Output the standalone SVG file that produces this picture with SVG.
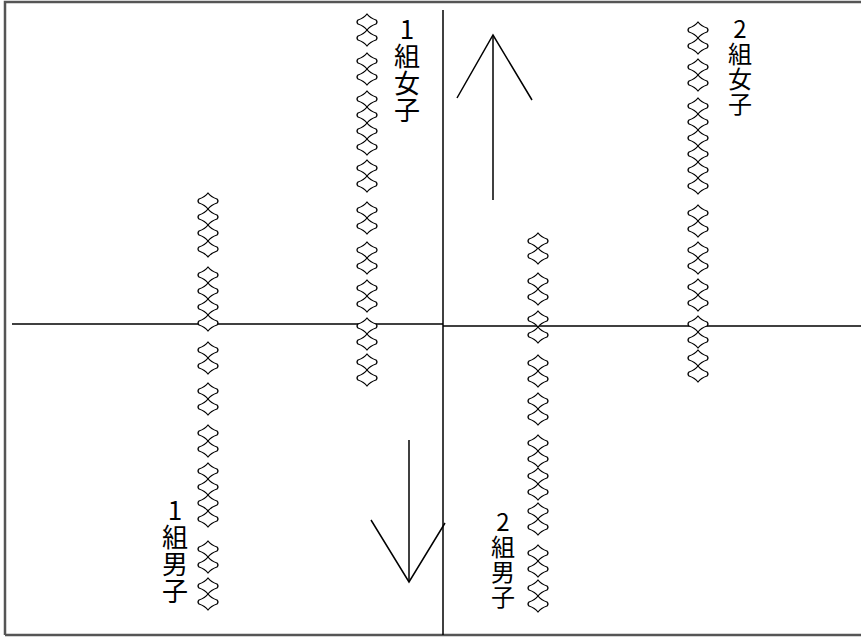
<svg xmlns="http://www.w3.org/2000/svg" xmlns:xlink="http://www.w3.org/1999/xlink" width="861" height="637" viewBox="0 0 861 637">
<style>
.ln{stroke:#000;stroke-width:1.5;fill:none}
.fr{stroke:#555;stroke-width:2.5;fill:none}
.dm{stroke:#000;stroke-width:1.2;fill:#fff}
.lb{font-family:"Noto Sans CJK JP","Noto Sans CJK SC",sans-serif;font-size:26px;letter-spacing:1px;fill:#000;writing-mode:vertical-rl;text-orientation:upright}
.sm{font-size:24px}
</style>
<defs>
<path id="d" class="dm" d="M0,0 Q3,4 9,6 Q11,8 9,10 Q3,12 0,16 Q-3,12 -9,10 Q-11,8 -9,6 Q-3,4 0,0 Z"/>
</defs>
<rect width="861" height="637" fill="#fff"/>
<g id="frame">
<path class="fr" d="M5,635 V2 H870 M5,635 H870"/>
</g>
<g id="connectors">
<line class="ln" x1="12" y1="324" x2="443" y2="324"/>
<line class="ln" x1="443" y1="326" x2="861" y2="326"/>
<line class="ln" x1="443" y1="10" x2="443" y2="635"/>
<g id="arrow-up">
<line class="ln" x1="493" y1="35" x2="493" y2="200"/>
<polyline class="ln" points="457,98 493,35 532,100"/>
</g>
<g id="arrow-down">
<line class="ln" x1="409" y1="440" x2="409" y2="582"/>
<polyline class="ln" points="371,520 409,582 445,523"/>
</g>
</g>
<g id="class1-girls">
<g transform="translate(367,0)">
<use xlink:href="#d" y="14"/><use xlink:href="#d" y="30"/>
<use xlink:href="#d" y="53"/><use xlink:href="#d" y="69"/>
<use xlink:href="#d" y="91"/><use xlink:href="#d" y="107"/><use xlink:href="#d" y="123"/><use xlink:href="#d" y="139"/>
<use xlink:href="#d" y="160"/><use xlink:href="#d" y="176"/>
<use xlink:href="#d" y="202"/><use xlink:href="#d" y="218"/>
<use xlink:href="#d" y="242"/><use xlink:href="#d" y="258"/>
<use xlink:href="#d" y="280"/><use xlink:href="#d" y="296"/>
<use xlink:href="#d" y="318"/><use xlink:href="#d" y="334"/>
<use xlink:href="#d" y="354"/><use xlink:href="#d" y="370"/>
</g>
<text class="lb" x="407" y="16">1組女子</text>
</g>
<g id="class1-boys">
<g transform="translate(208,0)">
<use xlink:href="#d" y="193"/><use xlink:href="#d" y="209"/><use xlink:href="#d" y="225"/><use xlink:href="#d" y="241"/>
<use xlink:href="#d" y="267"/><use xlink:href="#d" y="283"/><use xlink:href="#d" y="299"/><use xlink:href="#d" y="315"/>
<use xlink:href="#d" y="342"/><use xlink:href="#d" y="358"/>
<use xlink:href="#d" y="383"/><use xlink:href="#d" y="399"/>
<use xlink:href="#d" y="425"/><use xlink:href="#d" y="441"/>
<use xlink:href="#d" y="463"/><use xlink:href="#d" y="479"/><use xlink:href="#d" y="495"/><use xlink:href="#d" y="511"/>
<use xlink:href="#d" y="541"/><use xlink:href="#d" y="557"/>
<use xlink:href="#d" y="578"/><use xlink:href="#d" y="594"/>
</g>
<text class="lb" x="175" y="497">1組男子</text>
</g>
<g id="class2-girls">
<g transform="translate(698,0)">
<use xlink:href="#d" y="22"/><use xlink:href="#d" y="38"/>
<use xlink:href="#d" y="59"/><use xlink:href="#d" y="75"/>
<use xlink:href="#d" y="98"/><use xlink:href="#d" y="114"/><use xlink:href="#d" y="130"/><use xlink:href="#d" y="146"/><use xlink:href="#d" y="162"/><use xlink:href="#d" y="178"/>
<use xlink:href="#d" y="205"/><use xlink:href="#d" y="221"/>
<use xlink:href="#d" y="242"/><use xlink:href="#d" y="258"/>
<use xlink:href="#d" y="279"/><use xlink:href="#d" y="295"/>
<use xlink:href="#d" y="316"/><use xlink:href="#d" y="332"/>
<use xlink:href="#d" y="350"/><use xlink:href="#d" y="366"/>
</g>
<text class="lb sm" x="740" y="17">2組女子</text>
</g>
<g id="class2-boys">
<g transform="translate(538,0)">
<use xlink:href="#d" y="233"/><use xlink:href="#d" y="248"/>
<use xlink:href="#d" y="273"/><use xlink:href="#d" y="289"/>
<use xlink:href="#d" y="311"/><use xlink:href="#d" y="327"/>
<use xlink:href="#d" y="355"/><use xlink:href="#d" y="371"/>
<use xlink:href="#d" y="393"/><use xlink:href="#d" y="409"/>
<use xlink:href="#d" y="435"/><use xlink:href="#d" y="451"/><use xlink:href="#d" y="468"/><use xlink:href="#d" y="484"/><use xlink:href="#d" y="503"/><use xlink:href="#d" y="519"/>
<use xlink:href="#d" y="545"/><use xlink:href="#d" y="561"/>
<use xlink:href="#d" y="580"/><use xlink:href="#d" y="596"/>
</g>
<text class="lb sm" x="503" y="510">2組男子</text>
</g>
</svg>
